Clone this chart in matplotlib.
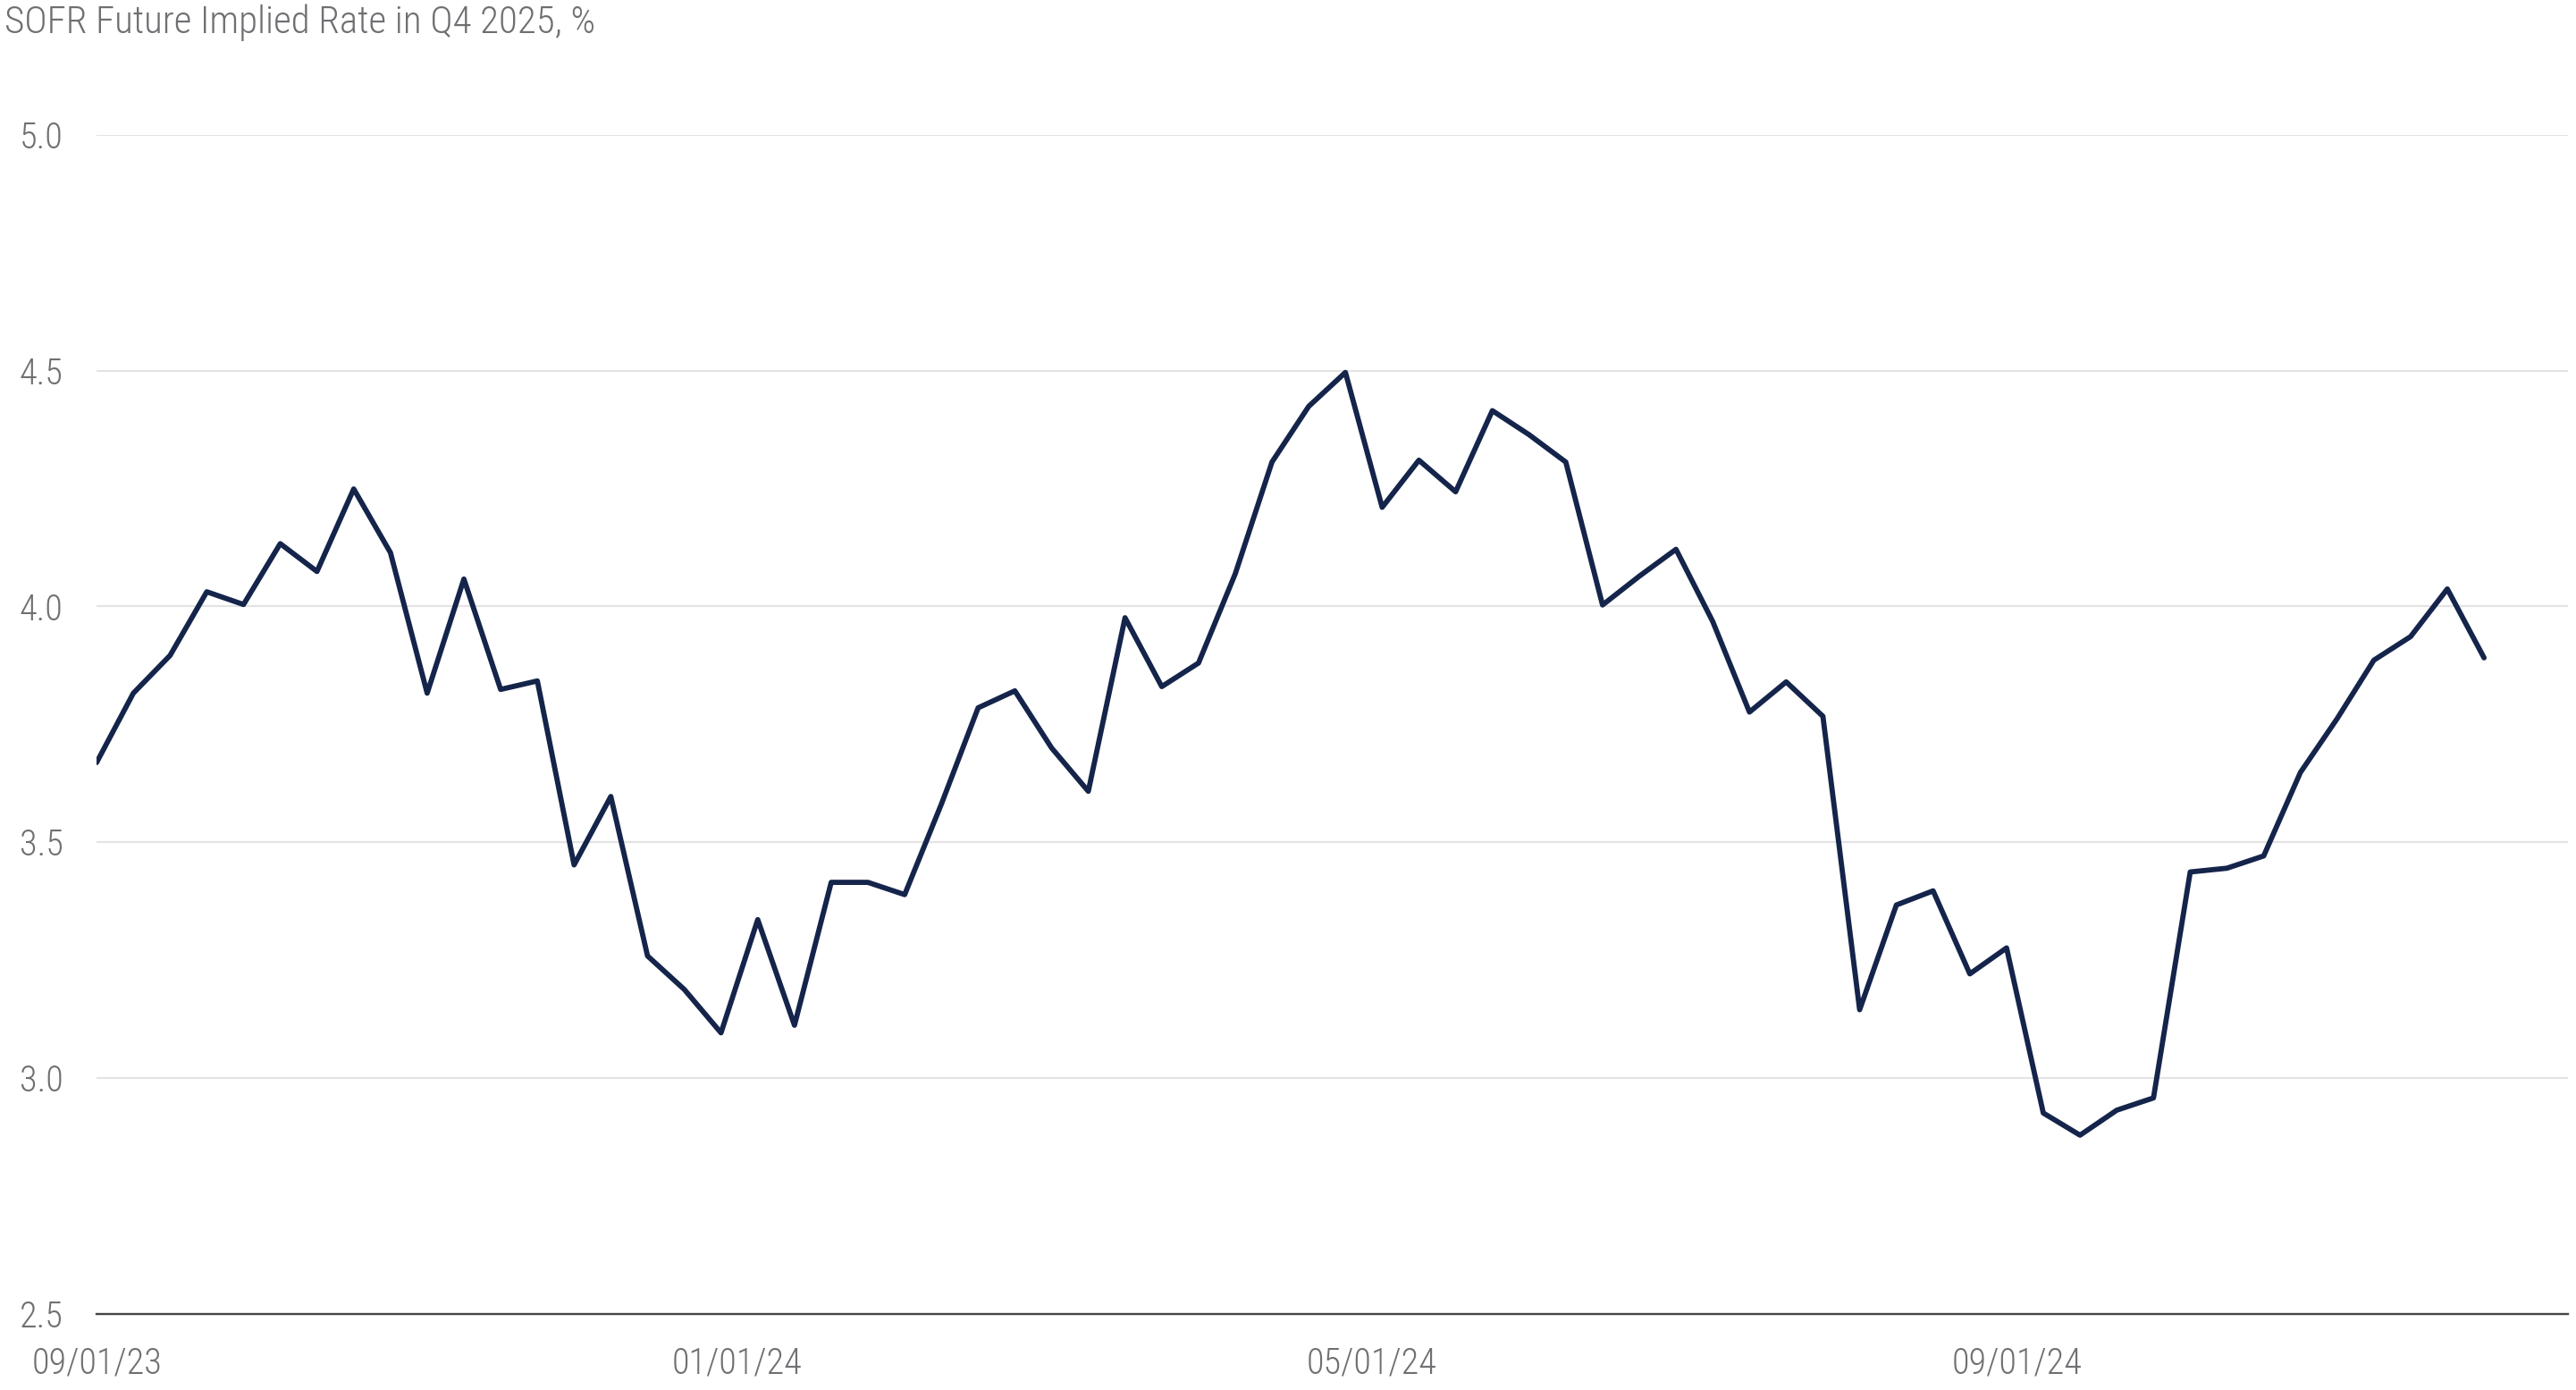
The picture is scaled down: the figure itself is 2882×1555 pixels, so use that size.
import matplotlib
matplotlib.use("Agg")
import matplotlib.pyplot as plt
import matplotlib.dates as mdates
import pandas as pd
import numpy as np

# ---- data ----
title = "SOFR Future Implied Rate in Q4 2025, %"
start_date = "2023-09-01"
rate = [3.669, 3.816, 3.896, 4.031, 4.004, 4.133, 4.074, 4.249, 4.114, 3.816,
        4.058, 3.824, 3.842, 3.452, 3.597, 3.259, 3.188, 3.096, 3.336, 3.112,
        3.415, 3.415, 3.389, 3.581, 3.785, 3.821, 3.700, 3.608, 3.976, 3.830,
        3.880, 4.069, 4.306, 4.424, 4.496, 4.210, 4.310, 4.243, 4.415, 4.364,
        4.306, 4.003, 4.064, 4.121, 3.968, 3.776, 3.840, 3.767, 3.145, 3.367,
        3.397, 3.221, 3.276, 2.926, 2.879, 2.932, 2.958, 3.437, 3.445, 3.471,
        3.648, 3.762, 3.886, 3.936, 4.037, 3.891]
dates = pd.date_range(start_date, periods=len(rate), freq="7D")
x_ticks = ["2023-09-01", "2024-01-01", "2024-05-01", "2024-09-01"]
y_ticks = [2.5, 3.0, 3.5, 4.0, 4.5, 5.0]
x_limits = ["2023-09-01", "2024-12-15"]

FONT = ["Roboto Condensed", "Liberation Sans Narrow", "Roboto"]
LINE = "#14244a"
TXT = "#6f6f73"

fig = plt.figure(figsize=(28.82, 15.55), dpi=100)
ax = fig.add_axes([0.0375, 0.0547, 0.9594, 0.8484])

ax.plot(dates, rate, color=LINE, lw=4.2, solid_joinstyle="round",
        solid_capstyle="round", zorder=3)

ax.set_ylim(2.5, 5.0)
ax.set_xlim(pd.Timestamp(x_limits[0]), pd.Timestamp(x_limits[1]))
ax.set_yticks(y_ticks)
ax.set_yticklabels([f"{v:.1f}" for v in y_ticks])
ax.set_xticks([pd.Timestamp(d) for d in x_ticks])
ax.xaxis.set_major_formatter(mdates.DateFormatter("%m/%d/%y"))

ax.grid(axis="y", color="#e3e3e3", lw=1.5, zorder=0)
ax.grid(axis="x", visible=False)
for s in ["top", "right", "left"]:
    ax.spines[s].set_visible(False)
ax.spines["bottom"].set_color("#444448")
ax.spines["bottom"].set_linewidth(1.7)
ax.spines["bottom"].set_zorder(4)

ax.tick_params(axis="both", length=0, labelsize=29, labelcolor=TXT)
ax.tick_params(axis="y", pad=27)
ax.tick_params(axis="x", pad=26)
for lab in ax.get_xticklabels() + ax.get_yticklabels():
    lab.set_family(FONT)
    lab.set_fontweight("light")

fig.text(0.0018, 0.997, title, ha="left", va="top", fontsize=31,
         color=TXT, family=FONT, fontweight="light")

fig.savefig("out.png", dpi=100)
